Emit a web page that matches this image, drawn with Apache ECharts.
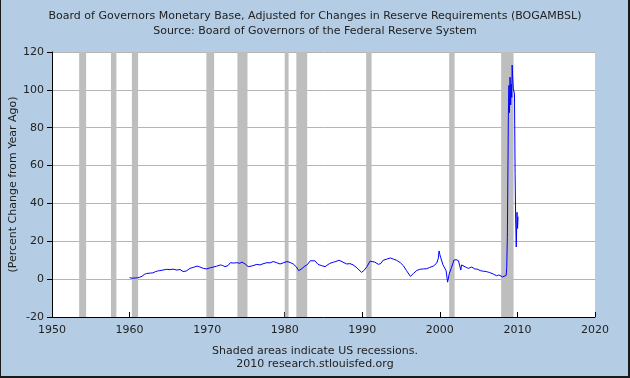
<!DOCTYPE html>
<html>
<head>
<meta charset="utf-8">
<script src="https://cdn.jsdelivr.net/npm/echarts@6/dist/echarts.min.js"></script>
<style>
html,body{margin:0;padding:0;background:#b4cde4;}
#c{width:630px;height:378px;}
</style>
</head>
<body>
<div id="c"></div>
<script>
// Decimal years and percent change from year ago
var years = [
1960.0,1960.3,1960.7,1961.0,1961.3,1961.6,1961.9,1962.2,1962.4,1962.7,
1963.0,1963.3,1963.6,1963.9,1964.3,1964.8,1965.2,1965.6,1966.1,1966.5,
1966.9,1967.3,1967.8,1968.2,1968.7,1969.0,1969.5,1969.9,1970.4,1970.8,
1971.2,1971.7,1972.0,1972.3,1972.7,1973.0,1973.4,1973.8,1974.2,1974.5,
1974.9,1975.3,1975.8,1976.4,1976.8,1977.2,1977.7,1978.1,1978.5,1978.9,
1979.4,1979.8,1980.3,1980.7,1981.1,1981.5,1981.8,1982.1,1982.6,1982.9,
1983.3,1983.9,1984.3,1984.7,1985.2,1985.8,1986.3,1986.6,1987.0,1987.4,
1988.0,1988.4,1988.8,1989.3,1989.9,1990.2,1990.6,1991.0,1991.2,1991.6,
1992.1,1992.4,1992.7,1993.1,1993.6,1994.0,1994.4,1994.9,1995.3,1995.7,
1996.2,1996.6,1997.0,1997.4,1997.9,1998.3,1998.7,1999.2,1999.6,1999.8,
1999.9,2000.0,2000.1,2000.4,2000.8,2001.0,2001.2,2001.5,2001.7,2001.8,
2002.1,2002.4,2002.7,2002.8,2003.0,2003.4,2003.7,2004.1,2004.5,2004.9,
2005.2,2005.6,2006.0,2006.4,2006.9,2007.3,2007.6,2007.8,2008.1,2008.3,
2008.55,2008.62,2008.70,2008.78,2008.83,2008.90,2008.97,2009.05,2009.13,2009.20,
2009.27,2009.32,2009.40,2009.47,2009.55,2009.62,2009.70,2009.77,2009.85,2009.95,
2010.02,2010.08
];
var pctChange = [
0.8,0.5,0.6,0.7,1.0,1.5,2.5,3.0,3.8,3.2,
3.3,3.9,4.3,4.5,4.8,5.2,5.0,5.3,4.8,5.1,
4.0,4.3,5.7,6.2,6.9,6.5,5.7,5.4,6.0,6.4,
6.8,7.5,7.2,6.6,7.2,8.7,8.5,8.7,8.4,9.0,
8.0,6.6,7.0,7.8,7.5,8.1,8.7,8.6,9.3,8.8,
8.0,8.6,9.3,8.8,8.0,6.5,4.5,5.2,6.9,7.6,
9.7,9.7,7.8,7.2,6.6,8.3,9.0,9.3,10.0,9.2,
8.0,8.2,7.6,6.0,3.6,4.5,6.6,9.5,10.5,9.0,
7.8,8.3,10.0,10.5,11.2,10.6,10.0,8.7,7.1,4.5,
1.5,3.0,4.5,5.2,5.4,5.5,6.2,7.0,8.5,11.0,
14.9,13.0,11.5,7.6,4.5,-1.6,2.7,6.2,8.5,10.0,
10.3,9.7,4.8,7.5,6.6,6.2,5.7,6.4,5.4,5.2,
4.5,4.2,4.0,3.5,2.7,1.8,2.2,1.4,1.2,1.0,
2.0,6.2,22.0,60.0,86.3,102.3,88.0,106.7,92.0,103.0,
96.0,113.1,105.8,100.6,99.7,97.9,55.7,31.8,17.0,35.3,
26.8,33.0
];
var recessionStart = [1953.5,1957.6,1960.3,1969.9,1973.9,1980.0,1981.5,1990.5,2001.2,2007.9];
var recessionEnd   = [1954.4,1958.3,1961.1,1970.9,1975.2,1980.5,1982.9,1991.2,2001.9,2009.5];
var xTicks = {min:1950, max:2020, step:10};
var yTicks = {min:-20, max:120, step:20};

var FONT = 'DejaVu Sans';
var seriesData = years.map(function(y,i){return [y, pctChange[i]];});
var areas = recessionStart.map(function(s,i){return [{xAxis:s},{xAxis:recessionEnd[i]}];});

var chart = echarts.init(document.getElementById('c'), null, {renderer:'canvas'});
chart.setOption({
  animation:false,
  backgroundColor:'#b4cde4',
  textStyle:{fontFamily:FONT},
  title:[
    {text:'Board of Governors Monetary Base, Adjusted for Changes in Reserve Requirements (BOGAMBSL)',
     left:'center', top:6, textStyle:{fontSize:11, fontWeight:'normal', color:'#222', fontFamily:FONT}},
    {text:'Source: Board of Governors of the Federal Reserve System',
     left:'center', top:21, textStyle:{fontSize:11, fontWeight:'normal', color:'#222', fontFamily:FONT}}
  ],
  grid:{left:52, right:35, top:52, bottom:61, show:true, backgroundColor:'#ffffff', borderWidth:0,
        containLabel:false, outerBoundsMode:'none'},
  xAxis:{
    type:'value', min:xTicks.min, max:xTicks.max, interval:xTicks.step,
    axisLine:{show:true, onZero:false, lineStyle:{color:'#000', width:1}},
    axisTick:{show:true, inside:true, length:5, lineStyle:{color:'#000'}},
    axisLabel:{fontSize:11, color:'#222', fontFamily:FONT, margin:8, formatter:function(v){return String(v);}},
    splitLine:{show:false}
  },
  yAxis:{
    type:'value', min:yTicks.min, max:yTicks.max, interval:yTicks.step,
    name:'(Percent Change from Year Ago)', nameLocation:'middle', nameGap:33, nameRotate:90,
    nameMoveOverlap:false,
    nameTextStyle:{fontSize:11, color:'#222', fontFamily:FONT},
    axisLine:{show:true, lineStyle:{color:'#000', width:1}},
    axisTick:{show:true, inside:false, length:5, lineStyle:{color:'#000'}},
    axisLabel:{fontSize:11, color:'#222', fontFamily:FONT, margin:8},
    splitLine:{show:true, lineStyle:{color:'#b4b4b4', width:1}}
  },
  series:[
    {type:'line', data:[], z:1, silent:true,
     markArea:{silent:true, itemStyle:{color:'#bebebe', opacity:1}, data:areas}},
    {type:'line', data:seriesData, z:3, symbol:'none', showSymbol:false,
     lineStyle:{color:'#0000ff', width:1}}
  ],
  graphic:[
    {type:'text', left:'center', top:346, style:{text:'Shaded areas indicate US recessions.', fontSize:11, fill:'#222', fontFamily:FONT}},
    {type:'text', left:'center', top:359, style:{text:'2010 research.stlouisfed.org', fontSize:11, fill:'#222', fontFamily:FONT}},
    {type:'rect', shape:{x:0, y:0, width:1, height:378}, style:{fill:'#1a1a1a'}, silent:true},
    {type:'rect', shape:{x:628, y:0, width:2, height:378}, style:{fill:'#1a1a1a'}, silent:true},
    {type:'rect', shape:{x:0, y:376, width:630, height:2}, style:{fill:'#1a1a1a'}, silent:true}
  ]
});
</script>
</body>
</html>
